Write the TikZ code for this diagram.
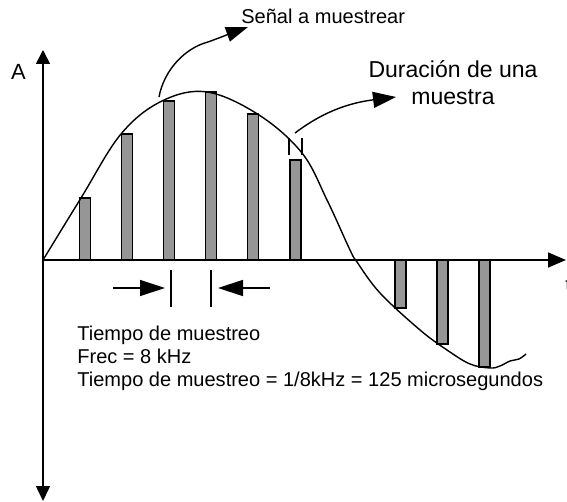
\documentclass[tikz,border=0pt]{standalone}
\usepackage{fontspec}
\setmainfont{Liberation Sans}
\usetikzlibrary{arrows.meta}

\begin{document}
\begin{tikzpicture}[x=0.02cm,y=-0.02cm,
                    axis/.style={line width=0.9pt},
                    axistip/.style={-{Triangle[length=0.36cm,width=0.3cm]}},
                    bigtip/.style={-{Triangle[length=0.5cm,width=0.32cm]}},
                    sample/.style={draw=black,line width=0.6pt,fill=black!41},
                    label/.style={inner sep=0pt,font=\fontsize{11.4}{13.1}\selectfont}]

                    \useasboundingbox (0,0) rectangle (567,502);

                    \coordinate (origin) at (43,260);
                    \draw[axis,{Triangle[length=0.3cm,width=0.28cm]}-{Triangle[length=0.28cm,width=0.28cm]}] (43,501) -- (43,50) coordinate (yaxis);
                    \draw[axis,axistip] (origin) -- (566,260) coordinate (xaxis);

                    \foreach \x/\y in {85/198,127/134,169/101,211/92,253/114,295.5/160,400.5/308,442.5/344,484.5/367}
                      \draw[sample] (\x-5.5,260) rectangle (\x+5.5,\y);

                    \draw[line width=0.8pt] plot[smooth,tension=0.6] coordinates {(origin) (81,198) (121,134) (162,101) (207,92) (259,115) (302,153) (327,200) (350,250) (357,262) (380,293) (420,330) (447,350) (470,364) (490,368) (500,366) (510,361) (519,359) (526,354)};

                    \node[label,font=\fontsize{12.5}{14}\selectfont,anchor=base] (A) at (18.5,80) {A};
                    \node[label,anchor=base west] (t) at (565,292) {t};
                    \node[label,anchor=base west] (senal) at (241,24) {Señal a muestrear};
                    \node[label,font=\fontsize{13.1}{15.4}\selectfont,align=center,anchor=north] (duracion) at (453,60) {Duración de una\\muestra};
                    \node[label,align=left,anchor=north west] (tiempo) at (77,326) {Tiempo de muestreo\\Frec = 8 kHz\\Tiempo de muestreo = 1/8kHz = 125 microsegundos};

                    \coordinate (senal tail) at (159,97);
                    \coordinate (senal tip) at (248,27);
                    \draw[line width=0.8pt,-{Triangle[length=0.44cm,width=0.3cm]}] (senal tail) .. controls (164,70) and (185,48) .. (208,42) .. controls (222,37) and (234,32) .. (senal tip);

                    \coordinate (dur tail) at (295,133);
                    \coordinate (dur tip) at (396,97);
                    \draw[line width=0.8pt,-{Triangle[length=0.46cm,width=0.32cm]}] (dur tail) .. controls (315,118) and (340,104) .. (dur tip);
                    \draw[line width=0.7pt] (289,138) -- (289,155) (302,138) -- (302,155);

                    \coordinate (mark1) at (171,270);
                    \coordinate (mark2) at (211,270);
                    \coordinate (left tail) at (113,288);
                    \coordinate (left tip) at (165,288);
                    \coordinate (right tail) at (270,288);
                    \coordinate (right tip) at (218,288);
                    \draw[line width=0.8pt] (mark1) -- ++(0,37) (mark2) -- ++(0,37);
                    \draw[line width=0.8pt,bigtip] (left tail) -- (left tip);
                    \draw[line width=0.8pt,bigtip] (right tail) -- (right tip);

                \end{tikzpicture}
\end{document}
